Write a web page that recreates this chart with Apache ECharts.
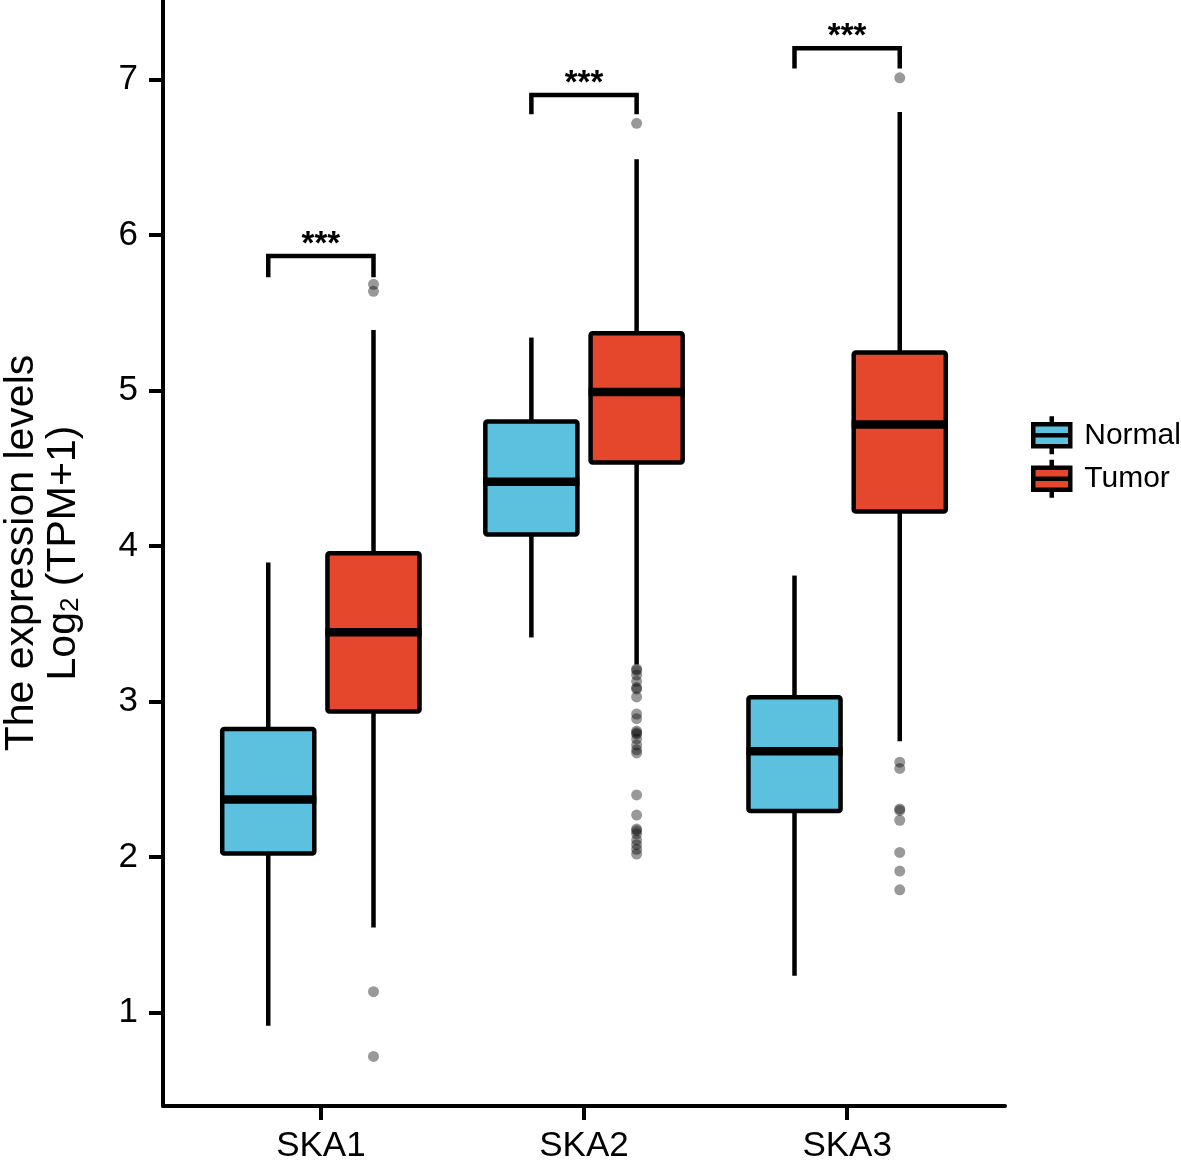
<!DOCTYPE html>
<html lang="en">
<head>
    <meta charset="UTF-8">
    <title>SKA expression</title>
    <style>
        html, body { margin: 0; padding: 0; background: #fff; }
        #chart { width: 1181px; height: 1169px; }
    </style>
</head>
<body>
<div id="chart"></div>
<script src="https://cdn.jsdelivr.net/npm/echarts@6/dist/echarts.min.js"></script>
<script>
    // data
    var categories = ['SKA1', 'SKA2', 'SKA3'];
    var groups = ['Normal', 'Tumor'];
    // [lower whisker, Q1, median, Q3, upper whisker]
    var normalStats = [
        [0.916, 2.023, 2.370, 2.824, 3.894],
        [3.412, 4.074, 4.413, 4.801, 5.340],
        [1.238, 2.297, 2.680, 3.028, 3.810]
    ];
    var tumorStats = [
        [1.547, 2.936, 3.446, 3.954, 5.388],
        [3.238, 4.537, 4.990, 5.368, 6.486],
        [2.745, 4.222, 4.781, 5.244, 6.790]
    ];
    var normalOutliers = [[], [], []];
    var tumorOutliers = [
        [5.682, 5.637, 1.135, 0.719],
        [6.717, 3.21, 3.20, 3.17, 3.13, 3.09, 3.08, 3.03, 2.92, 2.89, 2.81, 2.80, 2.79,
         2.76, 2.72, 2.69, 2.67, 2.40, 2.27, 2.18, 2.17, 2.15, 2.11, 2.08, 2.05, 2.02],
        [7.01, 2.61, 2.57, 2.31, 2.30, 2.237, 2.03, 1.91, 1.79]
    ];
    // significance bracket: [line level, end of the drop]
    var bracketLevels = [[5.864, 5.727], [6.900, 6.775], [7.200, 7.070]];
    var sigLabels = ['***', '***', '***'];
    var yTicks = [1, 2, 3, 4, 5, 6, 7];

    var colors = ['#5CC1DF', '#E5472D'];
    var fontFamily = "'Liberation Sans', Arial, sans-serif";
    var DODGE = 0.2, BOX_W = 0.35;

    function boxData(stats, shift) {
        return stats.map(function (s, i) {
            return [i + 1 + shift].concat(s);
        });
    }
    function outlierData(list, shift) {
        var out = [];
        list.forEach(function (vals, i) {
            vals.forEach(function (v) { out.push([i + 1 + shift, v]); });
        });
        return out;
    }

    function renderBox(params, api) {
        var x = api.value(0);
        var half = api.size([BOX_W, 0])[0] / 2;
        var pLow = api.coord([x, api.value(1)]);
        var pQ1 = api.coord([x, api.value(2)]);
        var pMed = api.coord([x, api.value(3)]);
        var pQ3 = api.coord([x, api.value(4)]);
        var pHigh = api.coord([x, api.value(5)]);
        var line = { stroke: '#000', lineWidth: 4.5 };
        return {
            type: 'group',
            children: [
                { type: 'line', shape: { x1: pQ3[0], y1: pQ3[1], x2: pHigh[0], y2: pHigh[1] }, style: line },
                { type: 'line', shape: { x1: pLow[0], y1: pLow[1], x2: pQ1[0], y2: pQ1[1] }, style: line },
                {
                    type: 'rect',
                    shape: { x: pQ3[0] - half, y: pQ3[1], width: half * 2, height: pQ1[1] - pQ3[1], r: 2 },
                    style: { fill: api.visual('color'), stroke: '#000', lineWidth: 4.5, lineJoin: 'round' }
                },
                {
                    type: 'line',
                    shape: { x1: pMed[0] - half - 2, y1: pMed[1], x2: pMed[0] + half + 2, y2: pMed[1] },
                    style: { stroke: '#000', lineWidth: 8.5 }
                }
            ]
        };
    }

    function renderBracket(params, api) {
        var a = api.coord([api.value(0), api.value(3)]);
        var b = api.coord([api.value(0), api.value(2)]);
        var c = api.coord([api.value(1), api.value(2)]);
        var d = api.coord([api.value(1), api.value(3)]);
        return {
            type: 'group',
            children: [
                {
                    type: 'polyline',
                    shape: { points: [a, b, c, d] },
                    style: { stroke: '#000', fill: null, lineWidth: 4.5 }
                },
                {
                    type: 'text',
                    x: (b[0] + c[0]) / 2,
                    y: b[1] - 11,
                    style: {
                        text: sigLabels[params.dataIndex],
                        fill: '#000',
                        font: 'bold 33px ' + fontFamily,
                        align: 'center',
                        verticalAlign: 'middle'
                    }
                }
            ]
        };
    }

    var bracketData = bracketLevels.map(function (b, i) {
        return [i + 1 - DODGE, i + 1 + DODGE, b[0], b[1]];
    });

    var legendIcon = 'path://M18.5,0V8M0,8H37V30H0ZM0,19H37M18.5,30V38';

    var option = {
        backgroundColor: '#fff',
        animation: false,
        color: colors,
        textStyle: { fontFamily: fontFamily },
        grid: { left: 163, right: 176, top: 0, bottom: 63, outerBoundsMode: 'none', containLabel: false },
        legend: {
            orient: 'vertical',
            left: 1026,
            top: 409,
            itemWidth: 37,
            itemHeight: 38,
            itemGap: 1,
            icon: legendIcon,
            itemStyle: { borderColor: '#000', borderWidth: 4.5 },
            textStyle: { fontSize: 30, color: '#000', fontFamily: fontFamily, padding: [0, 0, 0, 9] },
            data: groups
        },
        xAxis: {
            type: 'value',
            min: 0.4,
            max: 3.6,
            splitLine: { show: false },
            axisLine: { show: true, onZero: false, lineStyle: { color: '#000', width: 4 } },
            axisTick: { show: true, length: 14, customValues: [1, 2, 3], lineStyle: { color: '#000', width: 4 } },
            axisLabel: {
                customValues: [1, 2, 3],
                margin: 23,
                fontSize: 35,
                color: '#000',
                fontFamily: fontFamily,
                formatter: function (v) { return categories[Math.round(v) - 1]; }
            }
        },
        yAxis: {
            type: 'value',
            min: 0.4,
            max: 7.51,
            splitLine: { show: false },
            axisLine: { show: true, lineStyle: { color: '#000', width: 4 } },
            axisTick: { show: true, length: 14, customValues: yTicks, lineStyle: { color: '#000', width: 4 } },
            axisLabel: {
                customValues: yTicks,
                margin: 25,
                fontSize: 35,
                color: '#000',
                fontFamily: fontFamily
            },
            name: '{t|The expression levels}\n{t|Log}{s|2}{t| (TPM+1)}',
            nameLocation: 'middle',
            nameRotate: 90,
            nameGap: 79,
            nameTextStyle: {
                color: '#000',
                fontFamily: fontFamily,
                rich: {
                    t: { fontSize: 41, lineHeight: 42, color: '#000', fontFamily: fontFamily, verticalAlign: 'bottom' },
                    s: { fontSize: 26, lineHeight: 24, color: '#000', fontFamily: fontFamily, verticalAlign: 'bottom' }
                }
            }
        },
        series: [
            {
                name: 'Normal',
                type: 'custom',
                renderItem: renderBox,
                itemStyle: { color: colors[0] },
                encode: { x: 0, y: [1, 2, 3, 4, 5] },
                data: boxData(normalStats, -DODGE),
                z: 2
            },
            {
                name: 'Tumor',
                type: 'custom',
                renderItem: renderBox,
                itemStyle: { color: colors[1] },
                encode: { x: 0, y: [1, 2, 3, 4, 5] },
                data: boxData(tumorStats, DODGE),
                z: 2
            },
            {
                name: 'outliers',
                type: 'scatter',
                symbolSize: 11,
                itemStyle: { color: 'rgba(0,0,0,0.5)' },
                data: outlierData(normalOutliers, -DODGE).concat(outlierData(tumorOutliers, DODGE)),
                z: 3
            },
            {
                name: 'significance',
                type: 'custom',
                renderItem: renderBracket,
                encode: { x: [0, 1], y: [2, 3] },
                data: bracketData,
                clip: false,
                z: 4
            }
        ]
    };

    var chart = echarts.init(document.getElementById('chart'));
    chart.setOption(option);
</script>
</body>
</html>
